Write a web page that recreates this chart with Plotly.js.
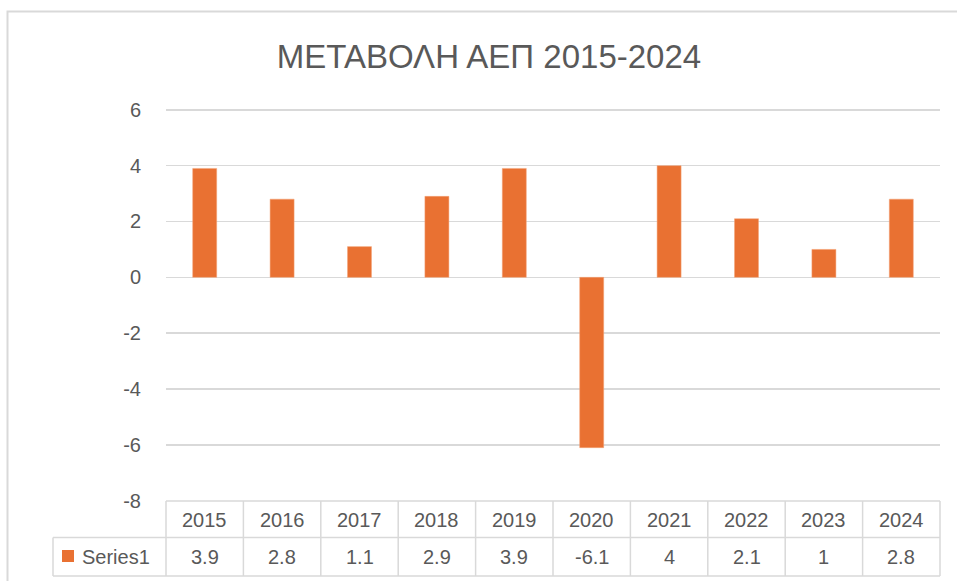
<!DOCTYPE html>
<html>
<head>
<meta charset="utf-8">
<script src="https://cdn.plot.ly/plotly-3.0.1.min.js"></script>
<style>html,body{margin:0;padding:0;background:#fff;}#chart{width:957px;height:581px;}</style>
</head>
<body>
<div id="chart"></div>
<script>
// ---- data ----
var years = ['2015','2016','2017','2018','2019','2020','2021','2022','2023','2024'];
var values = [3.9, 2.8, 1.1, 2.9, 3.9, -6.1, 4, 2.1, 1, 2.8];
var valueLabels = ['3.9','2.8','1.1','2.9','3.9','-6.1','4','2.1','1','2.8'];
var seriesName = 'Series1';
var chartTitle = 'ΜΕΤΑΒΟΛΗ ΑΕΠ 2015-2024';
var yTicks = [-8, -6, -4, -2, 0, 2, 4, 6];

// ---- layout geometry (pixels) ----
var W = 957, H = 581;
var mL = 166, mR = 17, mT = 107, mB = 80;
var plotW = W - mL - mR, plotH = H - mT - mB;
function px(x){ return (x - mL) / plotW; }
function py(y){ return (H - mB - y) / plotH; }

var gridColor = '#D9D9D9';
var textColor = '#595959';
var barColor = '#E97132';
var fontFam = 'Liberation Sans, Arial, sans-serif';

var shapes = [];
var annotations = [];
var n = years.length;

// outer chart border
shapes.push({type:'rect', xref:'paper', yref:'paper', x0:px(7.5), x1:px(975), y0:py(600), y1:py(11.5),
  line:{color:gridColor, width:2}, fillcolor:'rgba(0,0,0,0)', layer:'below'});

// table horizontal lines
var tTop = 501, tMid = 537.5, tBot = 576, tLeft = 53;
shapes.push({type:'line', xref:'paper', yref:'paper', x0:0, x1:1, y0:py(tTop), y1:py(tTop), line:{color:gridColor, width:1.5}});
shapes.push({type:'line', xref:'paper', yref:'paper', x0:px(tLeft), x1:1, y0:py(tMid), y1:py(tMid), line:{color:gridColor, width:1.5}});
shapes.push({type:'line', xref:'paper', yref:'paper', x0:px(tLeft), x1:1, y0:py(tBot), y1:py(tBot), line:{color:gridColor, width:1.5}});
// vertical lines
for (var k = 0; k <= n; k++) {
  shapes.push({type:'line', xref:'paper', yref:'paper', x0:k/n, x1:k/n, y0:py(tTop), y1:py(tBot), line:{color:gridColor, width:1.5}});
}
shapes.push({type:'line', xref:'paper', yref:'paper', x0:px(tLeft), x1:px(tLeft), y0:py(tMid), y1:py(tBot), line:{color:gridColor, width:1.5}});
// legend key square
shapes.push({type:'rect', xref:'paper', yref:'paper', x0:px(62), x1:px(74), y0:py(562), y1:py(550),
  line:{width:0}, fillcolor:barColor});

// table text (x given as category index on the category axis)
for (var i = 0; i < n; i++) {
  annotations.push({xref:'x', yref:'paper', x:i, y:py(519.5), text:years[i], showarrow:false,
    xanchor:'center', yanchor:'middle', font:{family:fontFam, size:20, color:textColor}});
  annotations.push({xref:'x', yref:'paper', x:i, y:py(556.5), text:valueLabels[i], showarrow:false,
    xanchor:'center', yanchor:'middle', font:{family:fontFam, size:20, color:textColor}});
}
annotations.push({xref:'paper', yref:'paper', x:px(80), y:py(556.5), text:seriesName, showarrow:false,
  xanchor:'left', yanchor:'middle', font:{family:fontFam, size:20, color:textColor}});

var trace = {
  type:'bar', x:years, y:values, name:seriesName,
  marker:{color:barColor, line:{color:'#F4A478', width:0.5}},
  hoverinfo:'x+y'
};

var layout = {
  width:W, height:H,
  margin:{l:mL, r:mR, t:mT, b:mB, pad:0},
  paper_bgcolor:'#ffffff', plot_bgcolor:'#ffffff',
  showlegend:false,
  bargap:0.69,
  title:{text:chartTitle, x:489/W, xanchor:'center', y:1-56/H, yanchor:'middle',
    font:{family:'Liberation Sans, Arial, sans-serif', size:33, color:textColor}},
  xaxis:{type:'category', range:[-0.5, n-0.5], autorange:false, showticklabels:false, showgrid:false, zeroline:false, showline:false, ticks:'', fixedrange:true},
  yaxis:{range:[-8.01,6.1], autorange:false, tickvals:yTicks, ticktext:yTicks.map(String), showgrid:true, gridcolor:gridColor, gridwidth:1.5,
    zeroline:false, showline:false, ticks:'', ticklabelstandoff:24,
    tickfont:{family:fontFam, size:20, color:textColor}, fixedrange:true},
  shapes:shapes,
  annotations:annotations
};

Plotly.newPlot('chart', [trace], layout, {displayModeBar:false, staticPlot:true});
</script>
</body>
</html>
